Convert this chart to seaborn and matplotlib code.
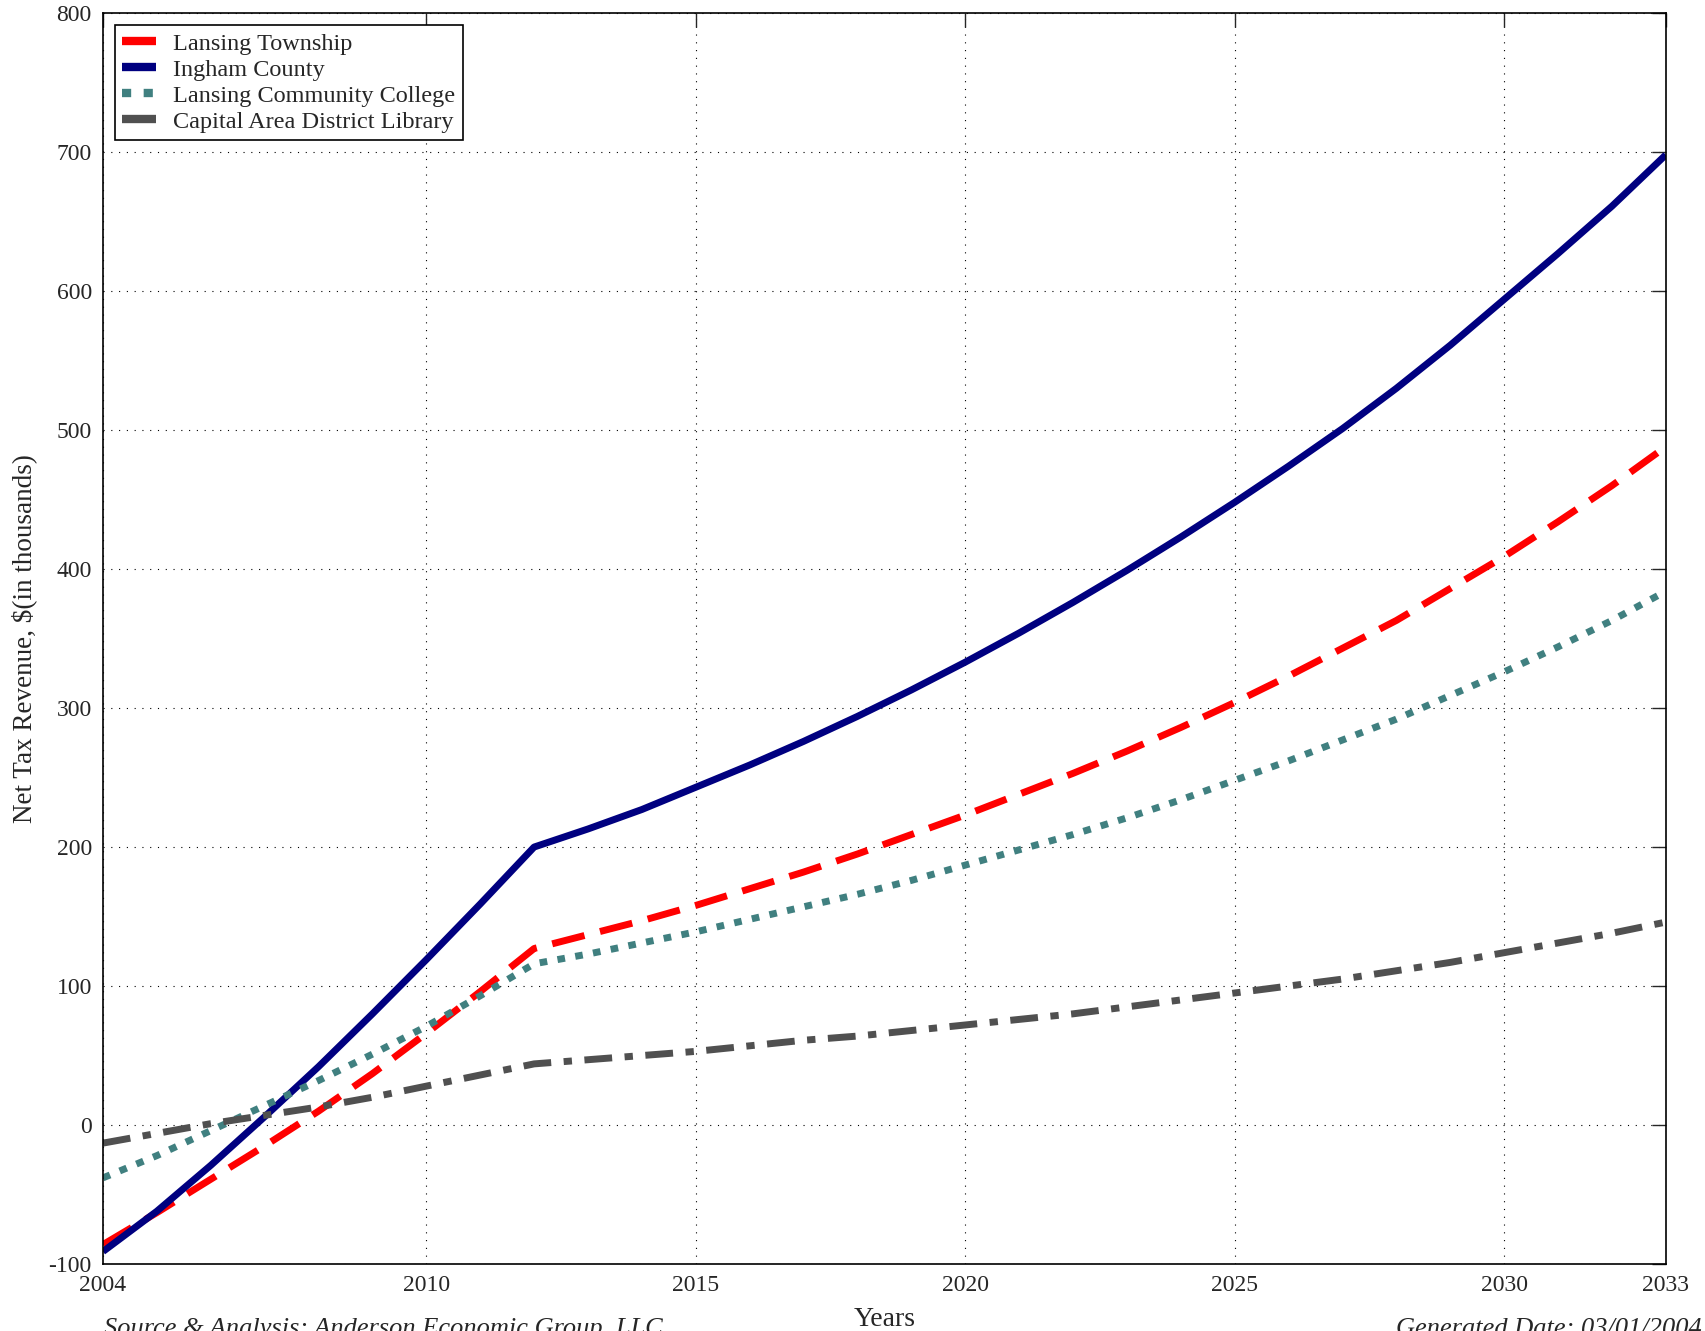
"""
Net tax revenue by jurisdiction, 2004-2033.
Saves out.png
"""

import pandas as pd
import matplotlib.pyplot as plt
import seaborn as sns

years = list(range(2004, 2034))

lansing_township = [-86, -63, -39, -15, 10, 37, 66, 96, 127,
                    137, 147, 158, 170, 182, 195, 209, 223, 238, 253, 269,
                    286, 304, 323, 343, 363, 386, 409, 434, 460, 488]
ingham_county = [-91, -62, -29, 6, 42, 80, 119, 159, 200,
                 213, 227, 243, 259, 276, 294, 313, 333, 354, 376, 399,
                 423, 448, 474, 501, 530, 561, 594, 627, 661, 698]
community_college = [-38, -22, -4, 14, 32, 51, 71, 93, 116,
                     123, 131, 139, 148, 157, 166, 176, 187, 198, 209, 221,
                     234, 248, 262, 277, 292, 309, 326, 344, 363, 384]
district_library = [-13, -6, 1, 7, 13, 20, 28, 36, 44,
                    47, 50, 53, 57, 61, 64, 68, 72, 76, 80, 85,
                    90, 95, 100, 105, 111, 117, 124, 131, 138, 146]

series_names = ["Lansing Township", "Ingham County",
                "Lansing Community College", "Capital Area District Library"]
series_values = [lansing_township, ingham_county, community_college, district_library]

x_ticks = [2004, 2010, 2015, 2020, 2025, 2030, 2033]
y_ticks = list(range(-100, 801, 100))

# dashes in units of line width; legend handles drawn as short blocks
styles = {
    "Lansing Township": dict(color="#FF0000", dashes=(4.8, 2.3), leg=None),
    "Ingham County": dict(color="#000080", dashes=None, leg=None),
    "Lansing Community College": dict(color="#408080", dashes=(1.1, 1.5), leg=(1.1, 1.5)),
    "Capital Area District Library": dict(color="#505050", dashes=(4.0, 1.8, 1.2, 1.8), leg=None),
}


def main():
    sns.set_style("white")
    plt.rcParams.update({
        'font.family': ['Liberation Serif', 'DejaVu Serif'],
        'font.size': 17,
    })

    df = pd.DataFrame({"year": years})
    for name, vals in zip(series_names, series_values):
        df[name] = vals

    fig = plt.figure(figsize=(17.05, 13.31), dpi=100)
    ax = fig.add_axes([0.0604, 0.0503, 0.9166, 0.9399])

    for name in series_names:
        st = styles[name]
        sns.lineplot(data=df, x="year", y=name, ax=ax, color=st["color"],
                     linewidth=5, label=name)
        ln = ax.get_lines()[-1]
        if st["dashes"]:
            ln.set_dashes(st["dashes"])
            ln.set_dash_capstyle('butt')
        else:
            ln.set_solid_capstyle('butt')

    ax.set_xlim(2004, 2033)
    ax.set_ylim(-100, 800)
    ax.set_xticks(x_ticks)
    ax.set_yticks(y_ticks)
    ax.set_xticklabels([str(t) for t in x_ticks])
    ax.set_yticklabels([str(t) for t in y_ticks])

    ax.grid(True, color='black', linestyle=(0, (1, 6)), linewidth=0.8)
    ax.tick_params(direction='in', length=10, width=1, top=True, right=True,
                   labelsize=17, pad=8)
    for sp in ax.spines.values():
        sp.set_color('black')
        sp.set_linewidth(1.2)

    ax.set_xlabel("Years", fontsize=20, labelpad=8)
    ax.set_ylabel("Net Tax Revenue, $(in thousands)", fontsize=19.5, labelpad=8)

    leg = ax.legend(loc='upper left', fontsize=17.5, frameon=True, fancybox=False,
                    edgecolor='black', framealpha=1, borderaxespad=0.5,
                    handlelength=1.4, handletextpad=0.7, labelspacing=0.17,
                    borderpad=0.3)
    leg.get_frame().set_linewidth(1.2)
    for h, name in zip(leg.get_lines(), series_names):
        h.set_linewidth(6)
        pat = styles[name]["leg"]
        if pat:
            h.set_dashes(pat)
            h.set_dash_capstyle('butt')
        else:
            h.set_linestyle('-')
            h.set_solid_capstyle('butt')

    fig.text(0.061, 0.010, "Source & Analysis: Anderson Economic Group, LLC",
             fontsize=19, style='italic', va='top', ha='left')
    fig.text(0.819, 0.010, "Generated Date: 03/01/2004",
             fontsize=19, style='italic', va='top', ha='left')

    fig.savefig("out.png", dpi=100)
    plt.close(fig)


if __name__ == "__main__":
    main()
